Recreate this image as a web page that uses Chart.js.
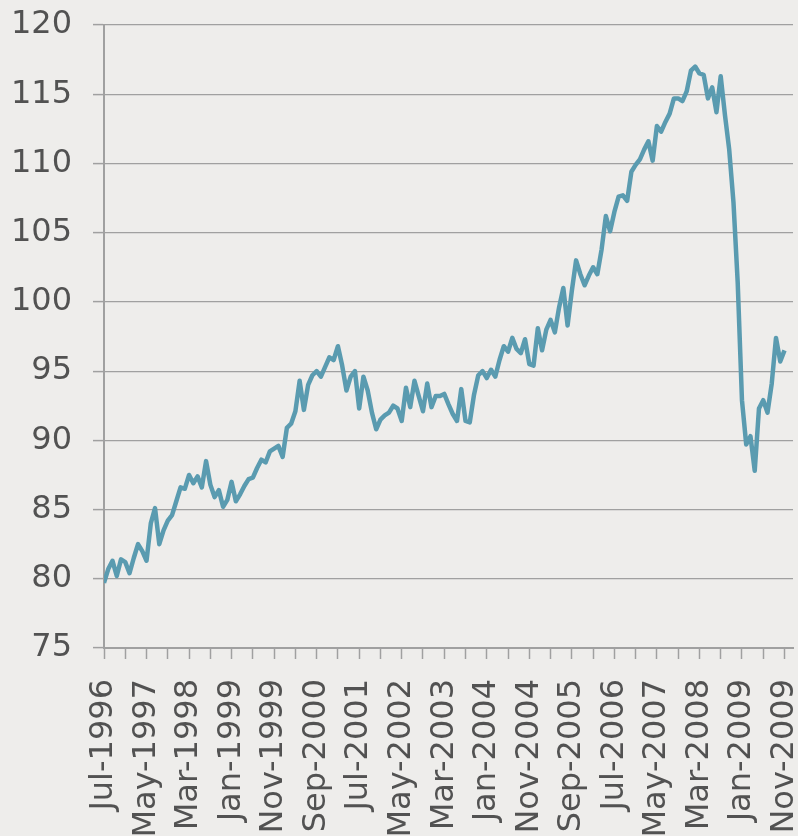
<!DOCTYPE html>
<html>
<head>
<meta charset="utf-8">
<script src="https://cdn.jsdelivr.net/npm/chart.js@4.4.0/dist/chart.umd.min.js"></script>
<style>
  html, body { margin: 0; padding: 0; background: #eeedeb; }
  canvas { display: block; }
</style>
</head>
<body>
<canvas id="indiceChart" width="798" height="836"></canvas>
<script>
// etiquetas del eje x, una cada 10 meses (Jul-1996 ... Nov-2009)
const etiquetas = ['Jul-1996', 'May-1997', 'Mar-1998', 'Jan-1999', 'Nov-1999', 'Sep-2000',
    'Jul-2001', 'May-2002', 'Mar-2003', 'Jan-2004', 'Nov-2004', 'Sep-2005',
    'Jul-2006', 'May-2007', 'Mar-2008', 'Jan-2009', 'Nov-2009'];

// valores mensuales
const valores = [
    79.7, 80.7, 81.3, 80.2, 81.4, 81.2, 80.4, 81.5, 82.5, 82.0,
    81.3, 84.0, 85.1, 82.5, 83.5, 84.2, 84.6, 85.6, 86.6, 86.5,
    87.5, 86.9, 87.4, 86.6, 88.5, 86.8, 85.9, 86.4, 85.2, 85.7,
    87.0, 85.6, 86.1, 86.7, 87.2, 87.3, 88.0, 88.6, 88.4, 89.2,
    89.4, 89.6, 88.8, 90.9, 91.2, 92.1, 94.3, 92.2, 94.0, 94.7,
    95.0, 94.6, 95.3, 96.0, 95.8, 96.8, 95.4, 93.6, 94.6, 95.0,
    92.3, 94.6, 93.6, 92.0, 90.8, 91.5, 91.8, 92.0, 92.5, 92.3,
    91.4, 93.8, 92.4, 94.3, 93.2, 92.1, 94.1, 92.4, 93.2, 93.2,
    93.35, 92.6, 91.9, 91.4, 93.7, 91.4, 91.3, 93.3, 94.7, 95.0,
    94.5, 95.1, 94.6, 95.8, 96.8, 96.4, 97.4, 96.6, 96.3, 97.3,
    95.5, 95.4, 98.1, 96.5, 98.0, 98.7, 97.8, 99.6, 101.0, 98.3,
    100.8, 103.0, 102.0, 101.2, 101.9, 102.5, 102.0, 103.8, 106.2, 105.1,
    106.5, 107.6, 107.7, 107.3, 109.4, 109.9, 110.3, 111.0, 111.6, 110.2,
    112.7, 112.3, 113.0, 113.6, 114.7, 114.7, 114.5, 115.2, 116.7, 117.0,
    116.5, 116.4, 114.7, 115.5, 113.7, 116.3, 113.5, 111.0, 107.2, 101.4,
    92.9, 89.7, 90.3, 87.8, 92.3, 92.9, 92.0, 94.1, 97.4, 95.7,
    96.5
];

// rango del eje y
const yMin = 75, yMax = 120, yPaso = 5;

let puntos = valores.map((v, i) => ({ x: i, y: v }));

const gris = '#a0a0a0';
const textoColor = '#525252';
const fuente = { family: 'DejaVu Sans', size: 32 };

let ctx = document.getElementById('indiceChart').getContext('2d');
new Chart(ctx, {
    type: 'line',
    data: {
        datasets: [{
            data: puntos,
            borderColor: '#5a9bb0',
            borderWidth: 4.5,
            borderJoinStyle: 'round',
            pointRadius: 0,
            tension: 0,
            fill: false
        }]
    },
    options: {
        responsive: false,
        animation: false,
        layout: { padding: { top: 25, right: 5, left: 0, bottom: 0 } },
        plugins: {
            legend: { display: false },
            tooltip: { enabled: false }
        },
        scales: {
            x: {
                type: 'linear',
                min: 0,
                max: 162,
                afterFit(scale) {
                    scale.height = 188;
                    scale.paddingLeft = 0;
                    scale.paddingRight = 0;
                },
                grid: {
                    drawOnChartArea: false,
                    drawTicks: true,
                    tickLength: 11,
                    color: gris,
                    tickWidth: 1.5
                },
                border: { display: true, color: gris, width: 2 },
                ticks: {
                    stepSize: 5,
                    includeBounds: false,
                    autoSkip: false,
                    maxRotation: 90,
                    minRotation: 90,
                    padding: 20,
                    color: textoColor,
                    font: fuente,
                    callback: function(valor) {
                        if (valor > 160) return null;
                        if (valor % 10 === 0) return etiquetas[valor / 10];
                        if (valor % 5 === 0) return '';
                        return null;
                    }
                }
            },
            y: {
                min: yMin,
                max: yMax,
                afterFit(scale) {
                    scale.width = 104;
                    scale.paddingTop = 0;
                    scale.paddingBottom = 0;
                },
                grid: {
                    color: gris,
                    lineWidth: 1.2,
                    tickLength: 11,
                    tickWidth: 1.5
                },
                border: { display: true, color: gris, width: 2 },
                ticks: {
                    stepSize: yPaso,
                    padding: 21,
                    color: textoColor,
                    font: fuente
                }
            }
        }
    }
});
</script>
</body>
</html>
